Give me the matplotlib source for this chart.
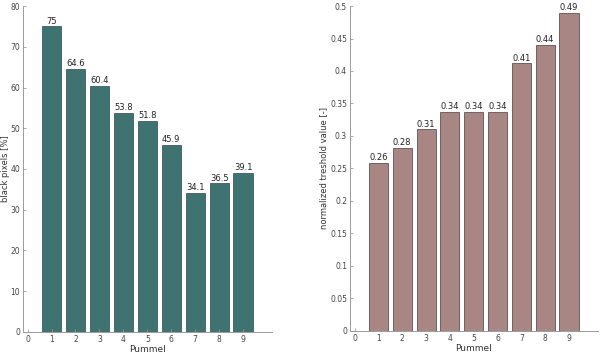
import matplotlib
matplotlib.use("Agg")
import matplotlib.pyplot as plt

# ---- dados --------------------------------------------------------------
pummel = [1, 2, 3, 4, 5, 6, 7, 8, 9]
black_pixels = [75, 64.6, 60.4, 53.8, 51.8, 45.9, 34.1, 36.5, 39.1]
labels_thr = ["0.26", "0.28", "0.31", "0.34", "0.34", "0.34", "0.41", "0.44", "0.49"]
threshold_h = [0.259, 0.282, 0.310, 0.337, 0.337, 0.337, 0.412, 0.440, 0.490]

COR_ESQ = "#3e7371"
COR_DIR = "#a78684"
CINZA = "#9a9a9a"

plt.rcParams["font.family"] = "DejaVu Sans"
plt.rcParams["font.size"] = 6


def estilo(ax):
    for s in ("top", "right"):
        ax.spines[s].set_visible(False)
    for s in ("left", "bottom"):
        ax.spines[s].set_color(CINZA)
        ax.spines[s].set_linewidth(0.7)
    ax.tick_params(direction="in", length=2.5, width=0.6, colors=CINZA,
                   labelcolor="#444444", labelsize=5.5, pad=2)
    ax.set_xticks(range(0, 10))
    ax.set_xlim(-0.2, 10.2)


fig = plt.figure(figsize=(6.0, 3.55), dpi=100)

ax1 = fig.add_axes([0.038, 0.065, 0.415, 0.918])
b1 = ax1.bar(pummel, black_pixels, width=0.8, color=COR_ESQ,
             edgecolor="#2a4a48", linewidth=0.5)
ax1.bar_label(b1, labels=[f"{v:g}" for v in black_pixels], padding=0.5,
              fontsize=6, color="#222222")
ax1.set_ylim(0, 80)
ax1.set_yticks(range(0, 81, 10))
ax1.set_xlabel("Pummel", fontsize=6.5, color="#333333", labelpad=1)
ax1.set_ylabel("black pixels [%]", fontsize=6, color="#333333")
ax1.yaxis.set_label_coords(-0.052, 0.5)
estilo(ax1)

ax2 = fig.add_axes([0.583, 0.068, 0.413, 0.915])
b2 = ax2.bar(pummel, threshold_h, width=0.8, color=COR_DIR,
             edgecolor="#4a3a3a", linewidth=0.5)
ax2.bar_label(b2, labels=labels_thr, padding=0.5, fontsize=6, color="#222222")
ax2.set_ylim(0, 0.5)
ax2.set_yticks([0, 0.05, 0.1, 0.15, 0.2, 0.25, 0.3, 0.35, 0.4, 0.45, 0.5])
ax2.set_yticklabels(["0", "0.05", "0.1", "0.15", "0.2", "0.25", "0.3",
                     "0.35", "0.4", "0.45", "0.5"])
ax2.set_xlabel("Pummel", fontsize=6.5, color="#333333", labelpad=1)
ax2.set_ylabel("normalized treshold value [-]", fontsize=6, color="#333333")
ax2.yaxis.set_label_coords(-0.088, 0.5)
estilo(ax2)

fig.savefig("out.png", dpi=100)
